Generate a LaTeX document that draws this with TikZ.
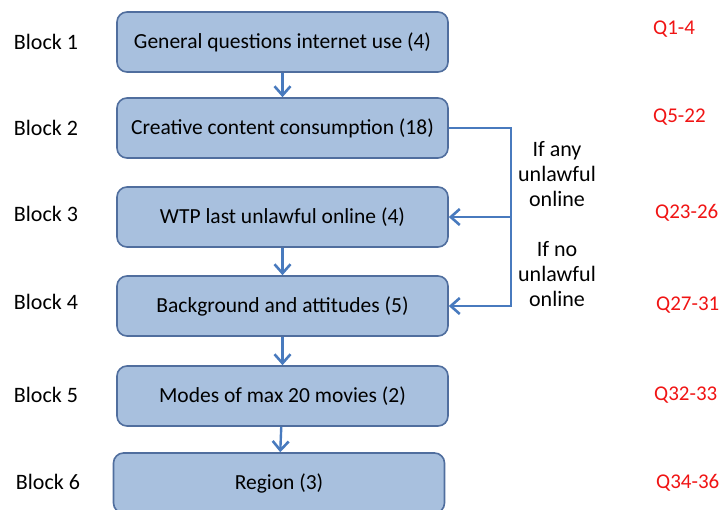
\documentclass[tikz,border=0pt]{standalone}
\usepackage{fontspec}
\setmainfont{Carlito}
\usetikzlibrary{arrows.meta}
\definecolor{boxfill}{RGB}{168,192,222}
\definecolor{boxline}{RGB}{80,110,158}
\definecolor{flowblue}{RGB}{72,122,190}
\definecolor{qred}{RGB}{240,20,20}
\tikzstyle{block}=[draw=boxline,fill=boxfill,line width=1.6pt,rounded corners=10pt,minimum width=331pt,minimum height=60pt,align=center,font=\fontsize{21.5}{24}\selectfont]
\tikzstyle{blocklabel}=[font=\fontsize{22}{24}\selectfont,inner sep=0pt]
\tikzstyle{qlabel}=[font=\fontsize{21}{24}\selectfont,inner sep=0pt,text=qred,anchor=west]
\tikzstyle{note}=[font=\fontsize{22}{25}\selectfont,align=center,inner sep=0pt]
\tikzstyle{flow}=[draw=flowblue,line width=2.4pt]
\tikzset{>={Straight Barb[length=9pt,width=16pt,line width=2.6pt]}}

\begin{document}
\begin{tikzpicture}[x=1pt,y=-1pt]
  \useasboundingbox (0,0) rectangle (722,509);
  \node[block] (b1) at (282.5,42) {General questions internet use (4)};
  \node[block] (b2) at (282.5,128) {Creative content consumption (18)}
    edge [flow,<-] (b1);
  \node[block] (b3) at (282.5,217) {WTP last unlawful online (4)};
  \node[block] (b4) at (282.5,306) {Background and attitudes (5)}
    edge [flow,<-] (b3);
  \node[block] (b5) at (282.5,396) {Modes of max 20 movies (2)}
    edge [flow,<-] (b4);
  \node[block] (b6) at (279,483) {Region (3)}
    edge [flow,<-] (b5);

  % branch after block 2
  \coordinate (any) at (511,217);
  \coordinate (none) at (511,306);
  \draw[flow,->] (b2.east) -| (none) -- (b4.east);
  \draw[flow,->] (any) -- (b3.east);
  \node[note] (nany) at (557,174) {If any\\unlawful\\online};
  \node[note] (nnone) at (557,274) {If no\\unlawful\\online};

  % block names
  \node[blocklabel] (l1) at (46,42) {Block 1};
  \node[blocklabel] (l2) at (46,128) {Block 2};
  \node[blocklabel] (l3) at (46,214) {Block 3};
  \node[blocklabel] (l4) at (46,302) {Block 4};
  \node[blocklabel] (l5) at (46,395) {Block 5};
  \node[blocklabel] (l6) at (48,482) {Block 6};

  % question numbers
  \node[qlabel] (q1) at (653,29) {Q1-4};
  \node[qlabel] (q2) at (653,117) {Q5-22};
  \node[qlabel] (q3) at (655,213) {Q23-26};
  \node[qlabel] (q4) at (656,305) {Q27-31};
  \node[qlabel] (q5) at (654,395) {Q32-33};
  \node[qlabel] (q6) at (656,483) {Q34-36};
\end{tikzpicture}
\end{document}
